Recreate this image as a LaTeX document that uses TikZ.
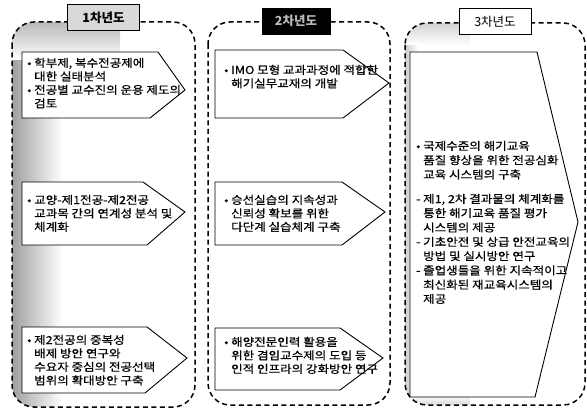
\documentclass[tikz,border=0pt]{standalone}
\usepackage{fontspec}
\setmainfont{Noto Sans CJK KR}
\newfontfamily\bodyfont[FakeStretch=1.14, FakeBold=0.6]{Noto Sans CJK KR}
\begin{document}
\begin{tikzpicture}[x=1pt,y=-1pt,
  frame/.style={draw, dash pattern=on 5pt off 3.5pt, line width=1.5pt, rounded corners=22pt},
  arrowbox/.style={draw, line width=0.9pt, fill=white, line join=miter},
  txt/.style={anchor=base west, inner sep=0pt, font=\bodyfont\fontsize{11}{13.5}\selectfont},
  txtb/.style={anchor=base west, inner sep=0pt, font=\bodyfont\fontsize{11}{14.3}\selectfont},
  titlebox/.style={draw, line width=0.9pt, minimum width=72pt, minimum height=26pt, inner sep=0pt, font=\bfseries\fontsize{12.5}{14}\selectfont}]
\useasboundingbox (0,0) rectangle (587,412);
\newcommand{\bul}{\makebox[7pt][l]{•}}
\newcommand{\dsh}{\makebox[7pt][l]{-}}
\newcommand{\ind}{\hspace*{7pt}}
\newcommand{\para}[1]{\parbox[t]{190pt}{\raggedright #1}}
% shading column 1
\begin{scope}
  \clip[rounded corners=22pt] (12,22) rectangle (195,407);
  \shade[left color=gray!75, right color=white] (12,22) rectangle (62,407);
  \shade[top color=gray!55, bottom color=white] (12,22) rectangle (120,60);
\end{scope}
% shading column 3
\begin{scope}
  \clip[rounded corners=22pt] (405,23) rectangle (585,405);
  \shade[left color=gray!40, right color=white] (405,23) rectangle (418,405);
  \shade[top color=gray!35, bottom color=white] (405,23) rectangle (470,45);
  \shade[top color=white, bottom color=gray!30] (405,395) rectangle (470,405);
\end{scope}
% frames
\draw[frame] (12,22) rectangle (195,407);
\draw[frame] (208,22) rectangle (390,405);
\draw[frame] (405,23) rectangle (585,405);
% titles
\node[titlebox, fill=gray!30] (t1) at (103.5,17.5) {1차년도};
\node[titlebox, fill=black, text=gray!55, minimum width=68pt] (t2) at (296,21) {2차년도};
\node[titlebox, fill=white, font=\fontsize{12.5}{14}\selectfont] (t3) at (495,21.5) {3차년도};
% column 1 boxes
\draw[arrowbox] (22,52) -- (158,52) -- (185,90) -- (150,118) -- (22,118) -- cycle;
\node[txt] (a1) at (27,67) {\para{\bul 학부제, 복수전공제에\\ \ind 대한 실태분석\\ \bul 전공별 교수진의 운용 제도의\\ \ind 검토}};
\draw[arrowbox] (22,182) -- (143,182) -- (185,212) -- (147,245) -- (22,245) -- cycle;
\node[txt] (a2) at (27,204) {\para{\bul 교양-제1전공-제2전공\\ \ind 교과목 간의 연계성 분석 및\\ \ind 체계화}};
\draw[arrowbox] (22,327) -- (147,327) -- (187,358) -- (145,393) -- (22,393) -- cycle;
\node[txt] (a3) at (27,344) {\para{\bul 제2전공의 중복성\\ \ind 배제 방안 연구와\\ \ind 수요자 중심의 전공선택\\ \ind 범위의 확대방안 구축}};
% column 2 boxes
\draw[arrowbox] (215,50) -- (343,50) -- (389,83) -- (343,118) -- (215,118) -- cycle;
\node[txt] (b1) at (224,74) {\para{\bul IMO 모형 교과과정에 적합한\\ \ind 해기실무교재의 개발}};
\draw[arrowbox] (215,182) -- (342,182) -- (385,212) -- (342,245) -- (215,245) -- cycle;
\node[txt] (b2) at (224,204) {\para{\bul 승선실습의 지속성과\\ \ind 신뢰성 확보를 위한\\ \ind 다단계 실습체계 구축}};
\draw[arrowbox] (215,328) -- (340,328) -- (383,358) -- (340,390) -- (215,390) -- cycle;
\node[txt] (b3) at (224,346) {\para{\bul 해양전문인력 활용을\\ \ind 위한 겸임교수제의 도입 등\\ \ind 인적 인프라의 강화방안 연구}};
% column 3 box
\draw[arrowbox] (410,52) -- (537,52) -- (578,222) -- (535,397) -- (410,397) -- cycle;
\node[txtb] (c1) at (416,150) {\para{\bul 국제수준의 해기교육\\ \ind 품질 향상을 위한 전공심화\\ \ind 교육 시스템의 구축}};
\node[txtb] (c2) at (416,203) {\para{\dsh 제1, 2차 결과물의 체계화를\\ \ind 통한 해기교육 품질 평가\\ \ind 시스템의 제공\\ \dsh 기초안전 및 상급 안전교육의\\ \ind 방법 및 실시방안 연구\\ \dsh 졸업생들을 위한 지속적이고\\ \ind 최신화된 재교육시스템의\\ \ind 제공}};
\end{tikzpicture}
\end{document}
